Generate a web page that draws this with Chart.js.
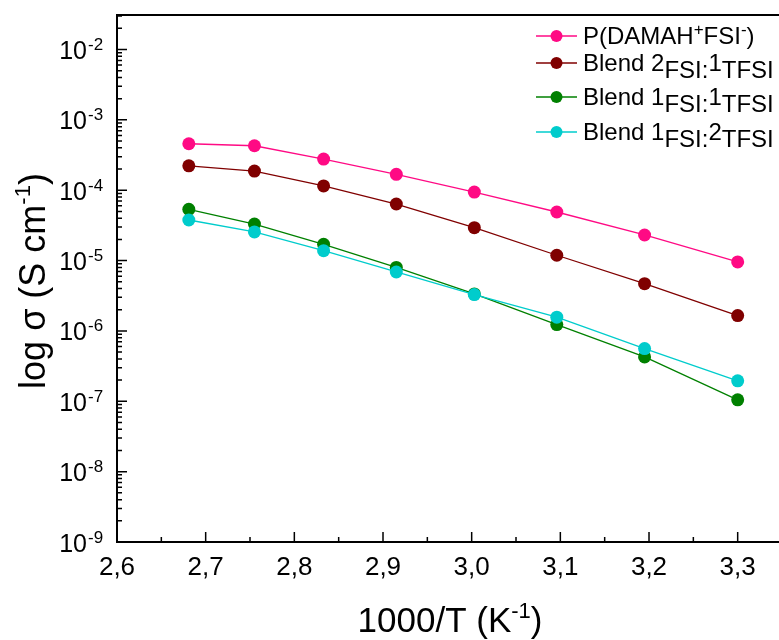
<!DOCTYPE html>
<html>
<head>
<meta charset="utf-8">
<script src="https://cdn.jsdelivr.net/npm/chart.js@4.4.1/dist/chart.umd.min.js"></script>
<style>
  html, body { margin: 0; padding: 0; background: #fff; }
  #grafico { display: block; }
</style>
</head>
<body>
<canvas id="grafico" width="779" height="640"></canvas>
<script>
// 1000/T (K^-1)
const invT = [2.681, 2.755, 2.833, 2.915, 3.003, 3.096, 3.195, 3.300];
// conductividad (S cm^-1)
const sigmaPoly = [4.57e-4, 4.28e-4, 2.77e-4, 1.68e-4, 9.4e-5, 4.9e-5, 2.31e-5, 9.55e-6];
const sigmaBlend21 = [2.22e-4, 1.87e-4, 1.15e-4, 6.36e-5, 2.93e-5, 1.19e-5, 4.70e-6, 1.65e-6];
const sigmaBlend11 = [5.35e-5, 3.30e-5, 1.70e-5, 8.0e-6, 3.36e-6, 1.23e-6, 4.27e-7, 1.05e-7];
const sigmaBlend12 = [3.77e-5, 2.55e-5, 1.38e-5, 6.88e-6, 3.28e-6, 1.57e-6, 5.61e-7, 1.95e-7];
const xTicks = [2.6, 2.7, 2.8, 2.9, 3.0, 3.1, 3.2, 3.3];
const yDecades = [-2, -3, -4, -5, -6, -7, -8, -9];

const FONT = '"Liberation Sans", Arial, sans-serif';
const colores = ['#ff0a84', '#800000', '#008000', '#00cccc'];

// etiquetas con sub/superindices: [texto, tamaño, desplazamiento vertical]
const leyenda = [
  [['P(DAMAH', 24, 0], ['+', 17, -9], ['FSI', 24, 0], ['-', 17, -9], [')', 24, 0]],
  [['Blend 2', 24, 0], ['FSI:', 24, 7], ['1', 24, 0], ['TFSI', 24, 7]],
  [['Blend 1', 24, 0], ['FSI:', 24, 7], ['1', 24, 0], ['TFSI', 24, 7]],
  [['Blend 1', 24, 0], ['FSI:', 24, 7], ['2', 24, 0], ['TFSI', 24, 7]]
];
const leyendaY = [36, 63, 97, 132];

function serie(vals) {
  return invT.map((x, i) => ({ x: x, y: vals[i] }));
}

function textoRico(ctx, segs, x, y, align) {
  let ancho = 0;
  segs.forEach(s => { ctx.font = s[1] + 'px ' + FONT; ancho += ctx.measureText(s[0]).width; });
  let cx = align === 'center' ? x - ancho / 2 : (align === 'right' ? x - ancho : x);
  ctx.textAlign = 'left';
  ctx.textBaseline = 'alphabetic';
  segs.forEach(s => {
    ctx.font = s[1] + 'px ' + FONT;
    ctx.fillText(s[0], cx, y + s[2]);
    cx += ctx.measureText(s[0]).width;
  });
}

const ejes = {
  id: 'ejes',
  beforeDatasetsDraw(chart) {
    const ctx = chart.ctx;
    const a = chart.chartArea;
    const xs = chart.scales.x, ys = chart.scales.y;
    ctx.save();
    ctx.strokeStyle = '#000';
    ctx.lineWidth = 1.5;
    // ticks hacia adentro
    ctx.beginPath();
    yDecades.forEach(k => {
      const py = ys.getPixelForValue(Math.pow(10, k));
      ctx.moveTo(a.left, py); ctx.lineTo(a.left + 10, py);
      for (let m = 2; m <= 9; m++) {
        const v = m * Math.pow(10, k);
        if (v > ys.max) continue;
        const p = ys.getPixelForValue(v);
        ctx.moveTo(a.left, p); ctx.lineTo(a.left + 5, p);
      }
    });
    xTicks.forEach(v => {
      const px = xs.getPixelForValue(v);
      ctx.moveTo(px, a.bottom); ctx.lineTo(px, a.bottom - 10);
      const vm = v + 0.05;
      if (vm < xs.max) {
        const pm = xs.getPixelForValue(vm);
        ctx.moveTo(pm, a.bottom); ctx.lineTo(pm, a.bottom - 5);
      }
    });
    ctx.stroke();
    ctx.lineWidth = 2;
    ctx.beginPath();
    ctx.moveTo(a.right, a.top); ctx.lineTo(a.left, a.top);
    ctx.lineTo(a.left, a.bottom); ctx.lineTo(a.right, a.bottom);
    ctx.stroke();
    ctx.restore();
  },
  afterDraw(chart) {
    const ctx = chart.ctx;
    const xs = chart.scales.x, ys = chart.scales.y;
    ctx.save();
    ctx.fillStyle = '#000';
    // etiquetas eje y
    yDecades.forEach(k => {
      const py = ys.getPixelForValue(Math.pow(10, k));
      ctx.font = '25px ' + FONT;
      ctx.textAlign = 'right';
      ctx.textBaseline = 'alphabetic';
      ctx.fillText('10', 87, py + 9.5);
      ctx.font = '17px ' + FONT;
      ctx.textAlign = 'left';
      ctx.fillText(String(k), 88, py + 0.5);
    });
    // etiquetas eje x
    ctx.font = '26px ' + FONT;
    ctx.textAlign = 'center';
    xTicks.forEach(v => {
      ctx.fillText(v.toFixed(1).replace('.', ','), xs.getPixelForValue(v), 575);
    });
    // titulos
    textoRico(ctx, [['1000/T (K', 35, 0], ['-1', 22, -14], [')', 35, 0]], 450, 632, 'center');
    ctx.save();
    ctx.translate(45, 281);
    ctx.rotate(-Math.PI / 2);
    textoRico(ctx, [['log σ (S cm', 36, 0], ['-1', 22, -15], [')', 36, 0]], 0, 0, 'center');
    ctx.restore();
    // leyenda
    leyenda.forEach((segs, i) => {
      const cy = leyendaY[i];
      ctx.strokeStyle = colores[i];
      ctx.lineWidth = 1.3;
      ctx.beginPath();
      ctx.moveTo(536, cy); ctx.lineTo(577, cy);
      ctx.stroke();
      ctx.fillStyle = colores[i];
      ctx.beginPath();
      ctx.arc(556.5, cy, 6, 0, Math.PI * 2);
      ctx.fill();
      ctx.fillStyle = '#000';
      textoRico(ctx, segs, 583, cy + 8, 'left');
    });
    ctx.restore();
  }
};

function dataset(vals, color, orden) {
  return {
    data: serie(vals),
    borderColor: color,
    backgroundColor: color,
    borderWidth: 1.3,
    pointRadius: 6.5,
    pointBorderWidth: 0,
    pointHoverRadius: 6.5,
    tension: 0,
    order: orden
  };
}

new Chart(document.getElementById('grafico'), {
  type: 'line',
  data: {
    datasets: [
      dataset(sigmaPoly, colores[0], 4),
      dataset(sigmaBlend21, colores[1], 3),
      dataset(sigmaBlend11, colores[2], 2),
      dataset(sigmaBlend12, colores[3], 1)
    ]
  },
  options: {
    responsive: false,
    animation: false,
    devicePixelRatio: 1,
    layout: { autoPadding: false, padding: { left: 117, top: 15, right: 0, bottom: 98 } },
    plugins: { legend: { display: false }, tooltip: { enabled: false } },
    scales: {
      x: { type: 'linear', min: 2.6, max: 3.3466, display: false },
      y: { type: 'logarithmic', min: 1e-9, max: Math.pow(10, -1.51), display: false }
    }
  },
  plugins: [ejes]
});
</script>
</body>
</html>
